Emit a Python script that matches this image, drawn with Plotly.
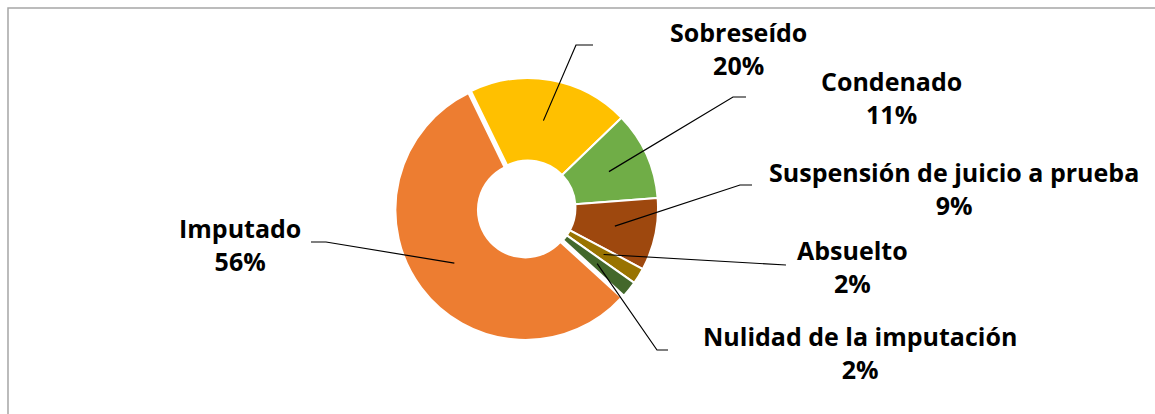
import math
import plotly.graph_objects as go

W, H = 1155, 414

labels = ['Sobreseído', 'Condenado', 'Suspensión de juicio a prueba', 'Absuelto',
          'Nulidad de la imputación', 'Imputado']
values = [20, 11, 9, 2, 2, 56]
pct_text = ['20%', '11%', '9%', '2%', '2%', '56%']
colors = ['#FFC000', '#70AD47', '#9E480E', '#997300', '#43682B', '#ED7D31']
pulls = [0, 0, 0, 0, 0, 0.025]

# pie geometry in pixels
cx, cy, r = 528, 208, 130
hole = 0.365
rotation = -26
half = r * (1 + max(pulls))


def px(x):
    return x / W


def py(y):
    return 1 - y / H


fig = go.Figure(data=[go.Pie(labels=labels, values=values, sort=False, direction='clockwise',
                             rotation=rotation, hole=hole, pull=pulls, textinfo='none',
                             hoverinfo='label+percent',
                             marker=dict(colors=colors, line=dict(color='white', width=2)),
                             domain=dict(x=[px(cx - half), px(cx + half)],
                                         y=[py(cy + half), py(cy - half)]))])

#============================= labels + leader lines ==============================
label_pos = [(738, 49), (891, 98), (954, 188), (853, 266), (860, 352), (240, 245)]
elbows = [[(576, 45), (593, 45)],
          [(733, 97), (746, 97)],
          [(740, 185), (752, 185)],
          [(786, 265)],
          [(657, 350), (668, 350)],
          [(326, 242), (311, 242)]]

total = sum(values)
start = rotation
annotations = []
shapes = []
for i, v in enumerate(values):
    mid = math.radians(start + 360 * v / total / 2)
    start += 360 * v / total
    rr = r * (1 + hole) / 2
    ax = cx + (rr + pulls[i] * r) * math.sin(mid)
    ay = cy - (rr + pulls[i] * r) * math.cos(mid)
    pts = [(ax, ay)] + elbows[i]
    path = 'M ' + ' L '.join('%f %f' % (px(x), py(y)) for x, y in pts)
    shapes.append(dict(type='path', xref='paper', yref='paper', path=path,
                       line=dict(color='black', width=1.2)))
    lx, ly = label_pos[i]
    annotations.append(dict(x=px(lx), y=py(ly), xref='paper', yref='paper', showarrow=False,
                            text='<b>' + labels[i] + '<br>' + pct_text[i] + '</b>',
                            font=dict(family='Open Sans', size=25, color='black'),
                            align='center', xanchor='center', yanchor='middle'))

# chart border (extends past the right and bottom edges)
shapes.append(dict(type='path', xref='paper', yref='paper',
                   path='M %f %f L %f %f L %f %f' % (px(8), py(H + 5), px(8), py(8), px(W + 5), py(8)),
                   line=dict(color='#A6A6A6', width=1.5)))

fig.update_layout(width=W, height=H, margin=dict(l=0, r=0, t=0, b=0), showlegend=False,
                  paper_bgcolor='white', plot_bgcolor='white',
                  annotations=annotations, shapes=shapes)

fig.write_html("out.html", config={'displayModeBar': False},
               post_script="document.body.style.margin='0px';")
